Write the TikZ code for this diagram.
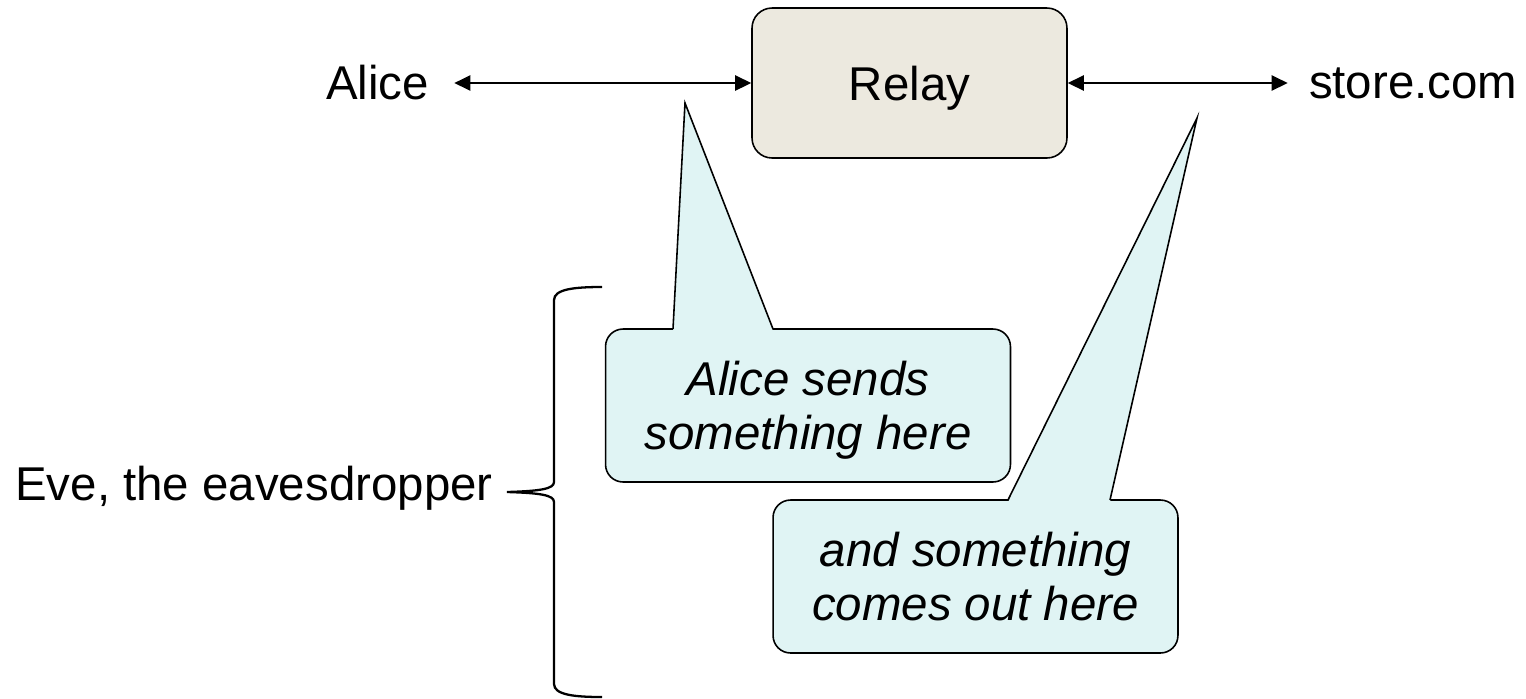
\documentclass[tikz,border=0pt]{standalone}
\usepackage{fontspec}
\setmainfont{Liberation Sans}
\usepackage{xcolor}
\usepackage{tikz}
\usetikzlibrary{arrows.meta,positioning}
\definecolor{relayfill}{HTML}{ECE9DF}
\definecolor{notefill}{HTML}{E0F4F4}

\begin{document}
\begin{tikzpicture}[
  x=0.02cm, y=-0.02cm,
  font=\fontsize{27}{31}\selectfont,
  box/.style={draw,rounded corners=0.4cm,fill=relayfill,line width=0.9pt,
              minimum width=6.3cm,minimum height=3cm,text depth=0pt},
  note/.style={draw,rounded corners=0.35cm,fill=notefill,line width=0.9pt,
               align=center,minimum width=8.1cm,minimum height=3.06cm,
               text depth=0pt,font=\fontsize{27}{31}\selectfont\itshape},
  party/.style={inner sep=0pt},
  flow/.style={{Triangle[length=3.2mm,width=3mm]}-{Triangle[length=3.2mm,width=3mm]},
               line width=1.3pt},
  tailline/.style={line width=0.9pt,line join=miter},
  bracket/.style={line width=1.3pt}
]
\useasboundingbox (0,0) rectangle (1526,698);

\node[box] (relay) at (909.5,83) {Relay};
\node[party,left=6.44cm of relay] (alice) {Alice};
\node[party,right=4.82cm of relay] (store) {store.com};
\draw[flow,shorten <=0.5cm] (alice) -- (relay);
\draw[flow,shorten >=0.42cm] (relay) -- (store);

% Eve and her brace
\node[party,anchor=base east] (eve) at (493,500) {Eve, the eavesdropper};
\coordinate (bracetip) at (507,492);
\draw[bracket] (602,287) .. controls (575,287) and (554,289) .. (554,300)
  -- (554,482) .. controls (554,489) and (540,491) .. (bracetip)
  .. controls (540,493) and (554,495) .. (554,502)
  -- (554,684) .. controls (554,695) and (575,697) .. (602,697);

% the two callouts
\node[note] (sends) at (808,405.5) {Alice sends\\something here};
\node[note] (comes) at (975.5,576.5) {and something\\comes out here};
\coordinate (intip) at (685,103);
\coordinate (outtip) at (1197,118);
\fill[notefill] (673,331) -- (intip) -- (773,331) -- cycle;
\draw[tailline] (673,329) -- (intip) -- (773,329);
\fill[notefill] (1008,502) -- (outtip) -- (1110,502) -- cycle;
\draw[tailline] (1008,500) -- (outtip) -- (1110,500);
\end{tikzpicture}
\end{document}
